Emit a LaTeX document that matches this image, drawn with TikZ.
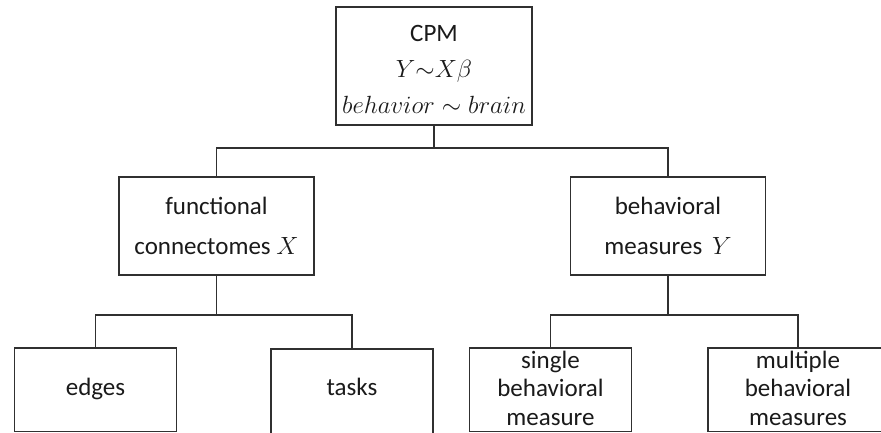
\documentclass[tikz,border=0pt]{standalone}
\usepackage{fontspec}
\setmainfont{Carlito}
\usepackage{tikz}
\usetikzlibrary{positioning,calc}
\definecolor{Ink}{HTML}{1A1A1A}
\definecolor{Edge}{HTML}{303030}
\tikzset{
  unit/.style={draw=Edge,line width=1.2pt,align=center,inner sep=0pt,text=Ink,fill=white},
  unitwide/.style={unit,minimum width=195pt,minimum height=98pt},
  unitleaf/.style={unit,minimum width=162pt,minimum height=83.5pt},
  link/.style={draw=Edge,line width=1.2pt}
}

\begin{document}
\begin{tikzpicture}[x=1pt,y=-1pt,font=\fontsize{25}{29.5}\selectfont]
  \path[use as bounding box] (0,0) rectangle (881,433);
  \clip (0,0) rectangle (881,433);
  \node[unit,minimum width=196pt,minimum height=118pt] (cpm) at (434,66) {\rule{0pt}{24pt}CPM\\[6.5pt]$Y{\sim}X\beta$\\[6.5pt]$behavior \sim brain$};
  \node[unitwide] (fc) at (216.5,226) {functional\\[10.5pt]connectomes $X$};
  \node[unitwide] (bm) at (668,226) {behavioral\\[10.5pt]measures\, $Y$};
  \node[unitleaf,text height=17pt,text depth=6.5pt] (edges) at (95.5,389.75) {edges};
  \node[unitleaf,minimum height=88pt,text height=17pt,text depth=13pt] (tasks) at (352,393) {tasks};
  \node[unitleaf,text depth=6.5pt,font=\fontsize{25}{28.5}\selectfont] (single) at (550.5,389.75) {\rule{0pt}{20pt}single\\behavioral\\measure};
  \node[unitleaf,text depth=6.5pt,font=\fontsize{25}{28.5}\selectfont,minimum width=180pt] (multiple) at (798,389.75) {\rule{0pt}{20pt}multiple\\behavioral\\measures};
  \coordinate (jtop) at (434,148);
  \coordinate (jleft) at (216.5,315);
  \coordinate (jright) at (668,315);
  \draw[link] (cpm.south) -- (jtop); \draw[link] (fc.north) |- (jtop) -| (bm.north);
  \draw[link] (fc.south) -- (jleft); \draw[link] (edges.north) |- (jleft) -| (tasks.north);
  \draw[link] (bm.south) -- (jright); \draw[link] (single.north) |- (jright) -| (multiple.north);
\end{tikzpicture}
\end{document}
